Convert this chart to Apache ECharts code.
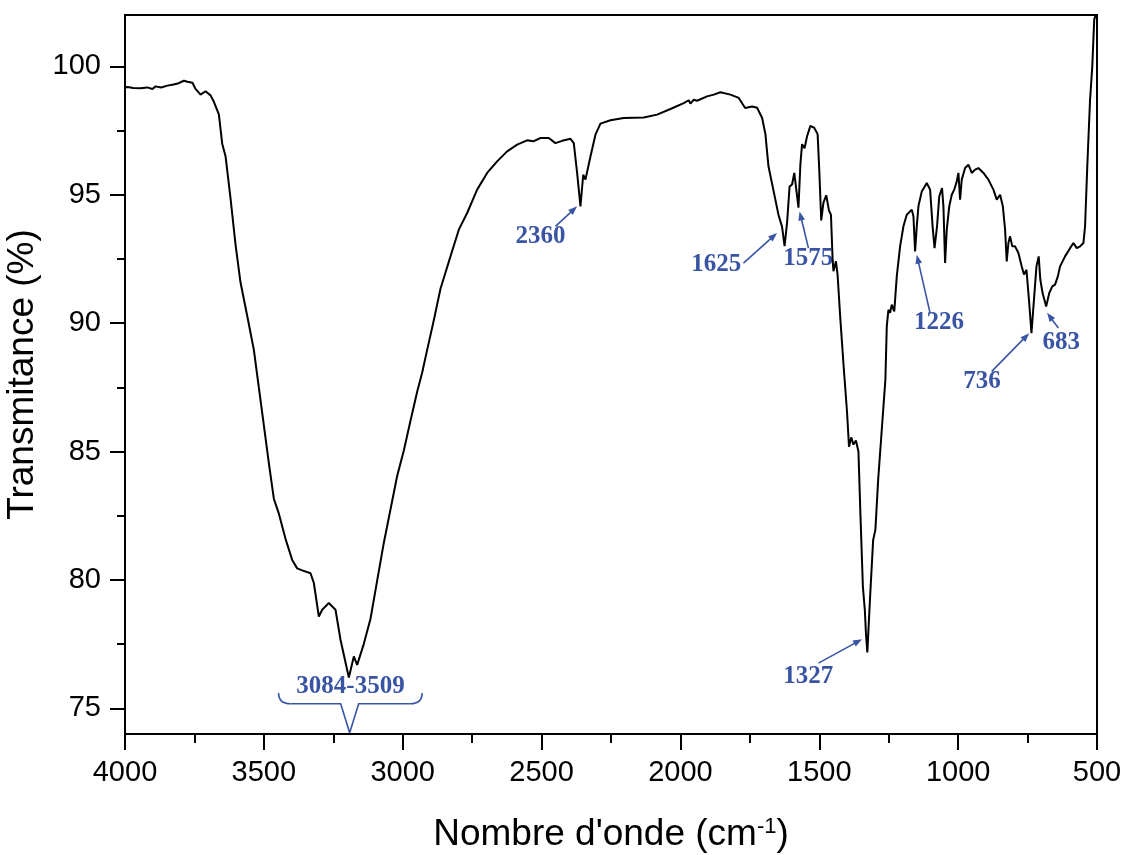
<!DOCTYPE html>
<html>
<head>
<meta charset="utf-8">
<script src="https://cdn.jsdelivr.net/npm/echarts@6/dist/echarts.min.js"></script>
<style>
  html, body { margin: 0; padding: 0; background: #fff; }
  #chart { width: 1124px; height: 855px; }
</style>
</head>
<body>
<div id="chart"></div>
<script>
// FTIR spectrum: wavenumber (cm-1) and transmittance (%)
const wavenumber = [
  4000, 3991, 3970, 3944, 3920, 3901, 3890, 3870, 3847, 3825, 3810, 3800, 3788, 3775, 3757, 3746,
  3728, 3710, 3692, 3680, 3662, 3650, 3638, 3620, 3602, 3584, 3560, 3536, 3518, 3500, 3482, 3464,
  3446, 3422, 3398, 3380, 3362, 3332, 3320, 3302, 3290, 3266, 3242, 3224, 3194, 3176, 3164, 3140,
  3116, 3092, 3068, 3050, 3020, 2996, 2972, 2948, 2930, 2912, 2888, 2864, 2828, 2798, 2768, 2732,
  2696, 2660, 2624, 2588, 2552, 2530, 2504, 2474, 2450, 2426, 2396, 2384, 2372, 2360, 2350, 2342,
  2324, 2306, 2288, 2252, 2204, 2132, 2084, 2036, 1988, 1970, 1964, 1952, 1940, 1904, 1880, 1856,
  1820, 1790, 1767, 1742, 1724, 1706, 1694, 1683, 1665, 1647, 1634, 1625, 1616, 1607, 1598, 1590,
  1575, 1568, 1562, 1553, 1544, 1532, 1518, 1506, 1500, 1493, 1485, 1475, 1465, 1458, 1452, 1449,
  1440, 1434, 1425, 1413, 1400, 1393, 1385, 1377, 1368, 1359, 1352, 1343, 1336, 1332, 1327, 1317,
  1306, 1298, 1288, 1275, 1262, 1257, 1251, 1245, 1239, 1230, 1221, 1209, 1197, 1185, 1167, 1161,
  1155, 1149, 1143, 1131, 1113, 1101, 1092, 1085, 1076, 1068, 1058, 1053, 1047, 1041, 1032, 1023,
  1014, 1005, 999, 993, 987, 975, 963, 951, 939, 927, 909, 891, 873, 861, 849, 839,
  831, 825, 819, 813, 805, 795, 783, 771, 763, 754, 745, 736, 727, 718, 710, 704,
  696, 683, 672, 661, 651, 641, 633, 615, 597, 585, 573, 561, 549, 543, 535, 525,
  517, 510, 505
];
const transmittance = [
  99.18, 99.2, 99.16, 99.15, 99.18, 99.12, 99.22, 99.18, 99.25, 99.29, 99.33, 99.38, 99.44, 99.4, 99.36, 99.12,
  98.9, 99.03, 98.87, 98.62, 98.13, 96.99, 96.5, 94.86, 93.06, 91.58, 90.29, 88.96, 87.49, 86.02, 84.55, 83.16,
  82.58, 81.6, 80.78, 80.45, 80.37, 80.26, 79.88, 78.57, 78.84, 79.1, 78.84, 77.67, 76.2, 77.02, 76.69, 77.51,
  78.49, 79.97, 81.45, 82.42, 84.05, 85.04, 86.2, 87.33, 88.07, 88.96, 90.11, 91.34, 92.6, 93.64, 94.29, 95.2,
  95.85, 96.3, 96.69, 96.95, 97.12, 97.08, 97.21, 97.21, 97.01, 97.1, 97.18, 97.01, 95.85, 94.55, 95.78, 95.59,
  96.49, 97.34, 97.77, 97.9, 97.99, 98.01, 98.12, 98.34, 98.57, 98.68, 98.55, 98.7, 98.66, 98.83, 98.9, 98.99,
  98.9, 98.77, 98.38, 98.44, 98.39, 98.0, 97.36, 96.11, 95.17, 94.22, 93.75, 93.0, 93.91, 95.32, 95.4, 95.85,
  94.5, 96.19, 96.97, 96.81, 97.28, 97.68, 97.6, 97.36, 95.95, 94.0, 94.69, 94.98, 94.38, 94.22, 92.49, 92.02,
  92.41, 91.87, 90.3, 88.42, 86.52, 85.19, 85.55, 85.27, 85.43, 85.0, 82.6, 79.74, 78.83, 77.92, 77.18, 79.35,
  81.56, 81.95, 83.9, 85.85, 87.8, 89.87, 90.52, 90.4, 90.72, 90.46, 91.82, 92.99, 93.77, 94.22, 94.42, 94.16,
  92.79, 93.77, 94.55, 95.13, 95.46, 95.2, 93.77, 92.92, 93.77, 94.94, 95.26, 94.55, 92.34, 93.64, 94.55, 95.0,
  95.2, 95.52, 95.85, 94.81, 95.59, 96.04, 96.17, 95.85, 95.98, 96.04, 95.85, 95.59, 95.2, 94.81, 95.0, 94.55,
  93.64, 92.4, 93.12, 93.38, 92.99, 92.99, 92.73, 92.21, 91.89, 92.08, 90.91, 89.61, 90.91, 92.21, 92.6, 91.69,
  91.17, 90.65, 91.17, 91.43, 91.5, 91.82, 92.21, 92.6, 92.92, 93.12, 92.92, 92.99, 93.12, 93.77, 96.1, 98.7,
  100.0, 101.82, 102.0
];

// Axis ticks
const yMajorTicks = [75, 80, 85, 90, 95, 100];
const yMinorTicks = [77.5, 82.5, 87.5, 92.5, 97.5];

// Peak annotations: label text, arrow tip, arrow tail, label centre (data units)
const peakText = ['2360', '1625', '1575', '1226', '1327', '736', '683'];
const peakTip  = [[2372, 94.55], [1652, 93.51], [1571, 94.35], [1149, 92.66], [1346, 77.69], [744, 89.61], [680, 90.4]];
const peakTail = [[2450, 93.77], [1773, 92.34], [1539, 92.92], [1101, 90.39], [1503, 76.76], [879, 88.12], [639, 89.81]];
const peakAt   = [[2504, 93.37], [1871, 92.27], [1540, 92.51], [1069, 90.01], [1540, 76.23], [914, 87.72], [629, 89.23]];

// O-H band bracket
const bandText = '3084-3509';
const bandTextAt = [3188, 75.85];
const bandSpan = [3447, 2930];
const bandTip = [3191, 74.05];
const bandLevel = 75.18;
const bandEnds = 75.6;

const BLUE = '#3a54a4';
const AXIS_FONT = '"Liberation Sans", Arial, sans-serif';
const NOTE_FONT = 'bold 25px "Liberation Serif", "Times New Roman", serif';

const chart = echarts.init(document.getElementById('chart'), null, { renderer: 'canvas' });

chart.setOption({
  animation: false,
  backgroundColor: '#fff',
  grid: {
    left: 125, right: 27, top: 15, bottom: 121,
    outerBoundsMode: 'none',
    containLabel: false,
    show: true, borderColor: '#000', borderWidth: 2, backgroundColor: 'transparent'
  },
  xAxis: {
    type: 'value',
    min: 500, max: 4000, interval: 500,
    inverse: true,
    name: "Nombre d'onde (cm{sup|-1})",
    nameLocation: 'middle',
    nameGap: 82,
    nameTextStyle: {
      fontFamily: AXIS_FONT, fontSize: 37, color: '#000',
      rich: { sup: { fontFamily: AXIS_FONT, fontSize: 22, color: '#000', verticalAlign: 'top', padding: [0, 0, 14, 0] } }
    },
    axisLine: { show: true, lineStyle: { color: '#000', width: 2 } },
    axisTick: { show: true, inside: false, length: 16, lineStyle: { color: '#000', width: 2 } },
    minorTick: { show: true, splitNumber: 2, length: 9, lineStyle: { color: '#000', width: 2 } },
    axisLabel: { fontFamily: AXIS_FONT, fontSize: 29, color: '#000', margin: 24, formatter: v => String(v) },
    splitLine: { show: false }
  },
  yAxis: [
    {
      type: 'value',
      min: 74, max: 102,
      name: 'Transmitance (%)',
      nameLocation: 'middle',
      nameGap: 73,
      nameTextStyle: { fontFamily: AXIS_FONT, fontSize: 37, color: '#000' },
      axisLine: { show: true, lineStyle: { color: '#000', width: 2 } },
      axisTick: { show: true, inside: false, length: 15, customValues: yMajorTicks, lineStyle: { color: '#000', width: 2 } },
      axisLabel: { fontFamily: AXIS_FONT, fontSize: 29, color: '#000', margin: 24, customValues: yMajorTicks, formatter: v => String(v) },
      splitLine: { show: false }
    },
    {
      type: 'value',
      min: 74, max: 102,
      position: 'left',
      axisLine: { show: false },
      axisTick: { show: true, inside: false, length: 8, customValues: yMinorTicks, lineStyle: { color: '#000', width: 2 } },
      axisLabel: { show: false, customValues: yMinorTicks },
      splitLine: { show: false }
    }
  ],
  series: [{
    type: 'line',
    xAxisIndex: 0,
    yAxisIndex: 0,
    data: wavenumber.map((w, i) => [w, transmittance[i]]),
    showSymbol: false,
    symbol: 'none',
    lineStyle: { color: '#000', width: 2 },
    clip: true,
    silent: true
  }]
});

// Annotation layer, placed through the chart's own coordinate system
const toPx = p => chart.convertToPixel({ gridIndex: 0 }, p);

function arrow(tail, tip) {
  const a = toPx(tail), b = toPx(tip);
  const dx = b[0] - a[0], dy = b[1] - a[1];
  const len = Math.hypot(dx, dy), ux = dx / len, uy = dy / len;
  const head = 9, half = 3.4;
  const base = [b[0] - ux * head, b[1] - uy * head];
  return [
    { type: 'line', shape: { x1: a[0], y1: a[1], x2: base[0] + ux * 2, y2: base[1] + uy * 2 },
      style: { stroke: BLUE, lineWidth: 1.6 } },
    { type: 'polygon', shape: { points: [b, [base[0] - uy * half, base[1] + ux * half], [base[0] + uy * half, base[1] - ux * half]] },
      style: { fill: BLUE } }
  ];
}

function label(text, at) {
  const p = toPx(at);
  return { type: 'text', x: p[0], y: p[1],
    style: { text: text, font: NOTE_FONT, fill: BLUE, align: 'center', verticalAlign: 'middle',
             textAlign: 'center', textVerticalAlign: 'middle' } };
}

const elements = [];
peakText.forEach((t, i) => {
  elements.push(...arrow(peakTail[i], peakTip[i]));
  elements.push(label(t, peakAt[i]));
});

// Curly bracket under the broad O-H band
(function () {
  const l = toPx([bandSpan[0], bandEnds]);
  const r = toPx([bandSpan[1], bandEnds]);
  const lvl = toPx([bandSpan[0], bandLevel])[1];
  const tip = toPx(bandTip);
  const rad = 12, halfV = 9;
  const s = { stroke: BLUE, lineWidth: 1.6, fill: null };
  elements.push({ type: 'bezierCurve', shape: { x1: l[0], y1: l[1], cpx1: l[0], cpy1: lvl, x2: l[0] + rad, y2: lvl }, style: s });
  elements.push({ type: 'polyline', shape: { points: [
    [l[0] + rad, lvl], [tip[0] - halfV, lvl], [tip[0], tip[1]], [tip[0] + halfV, lvl], [r[0] - rad, lvl]
  ] }, style: s });
  elements.push({ type: 'bezierCurve', shape: { x1: r[0] - rad, y1: lvl, cpx1: r[0], cpy1: lvl, x2: r[0], y2: r[1] }, style: s });
  elements.push(label(bandText, bandTextAt));
})();

chart.setOption({ graphic: { elements: elements } });
</script>
</body>
</html>
